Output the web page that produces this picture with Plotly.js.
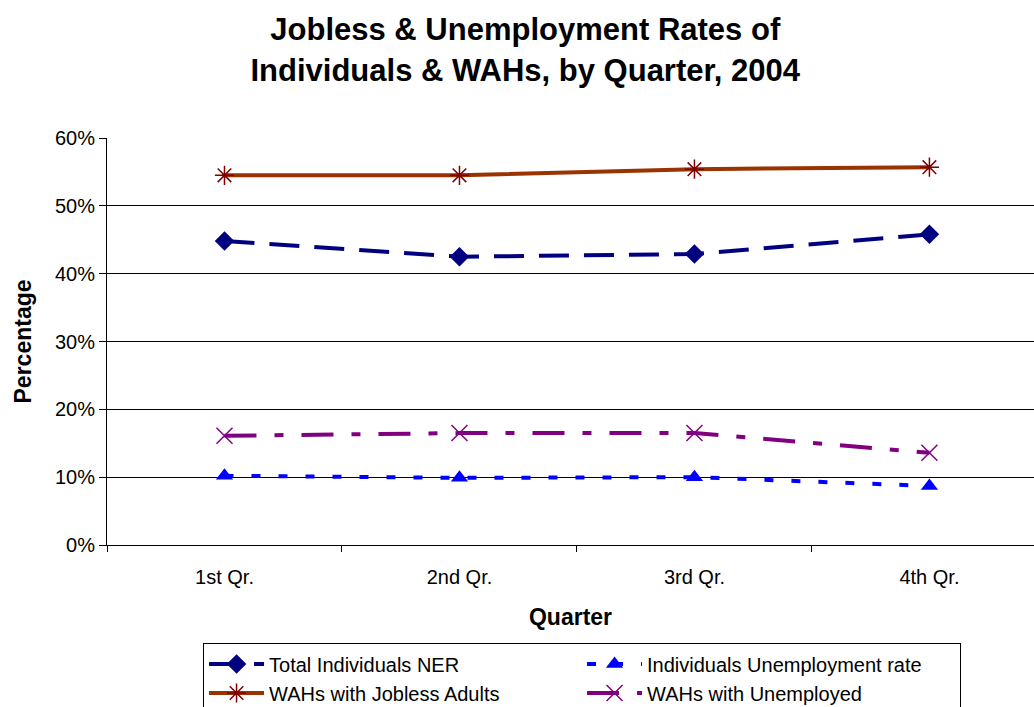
<!DOCTYPE html>
<html>
<head>
<meta charset="utf-8">
<script src="https://cdn.plot.ly/plotly-3.0.1.min.js"></script>
<style>
  html, body { margin: 0; padding: 0; background: #fff; overflow: hidden; }
  #chart { width: 1034px; height: 707px; }
</style>
</head>
<body>
<div id="chart"></div>
<script>
// Quarterly rates for 2004 (percent)
const quarters = ['1st Qr.', '2nd Qr.', '3rd Qr.', '4th Qr.'];
const totalIndividualsNER = [44.8, 42.5, 42.9, 45.8];
const individualsUnemploymentRate = [10.2, 9.9, 10.0, 8.7];
const wahsJoblessAdults = [54.5, 54.5, 55.4, 55.7];
const wahsUnemployed = [16.1, 16.5, 16.5, 13.6];
const yTickValues = [0, 10, 20, 30, 40, 50, 60];
const yTickLabels = ['0%', '10%', '20%', '30%', '40%', '50%', '60%'];

const FONT = 'Liberation Sans, Arial, sans-serif';

const traces = [
  {
    name: 'Total Individuals NER',
    x: quarters, y: totalIndividualsNER,
    mode: 'lines+markers',
    line: { color: '#000080', width: 4, dash: '30px,15px' },
    marker: { symbol: 'diamond', size: 15, color: '#000080' }
  },
  {
    name: 'Individuals Unemployment rate',
    x: quarters, y: individualsUnemploymentRate,
    mode: 'lines+markers',
    line: { color: '#0000FF', width: 4, dash: '9px,18px' },
    marker: { symbol: 'triangle-up', size: 15, color: '#0000FF' }
  },
  {
    name: 'WAHs with Jobless Adults',
    x: quarters, y: wahsJoblessAdults,
    mode: 'lines+markers',
    line: { color: '#993300', width: 4 },
    marker: { symbol: 'asterisk-open', size: 16, color: '#800000', line: { color: '#800000', width: 1.5 } }
  },
  {
    name: 'WAHs with Unemployed',
    x: quarters, y: wahsUnemployed,
    mode: 'lines+markers',
    line: { color: '#800080', width: 4, dash: '32px,18px,9px,18px' },
    marker: { symbol: 'x-thin-open', size: 16, color: '#800080', line: { color: '#800080', width: 1.5 } }
  }
];

const layout = {
  width: 1034, height: 707,
  margin: { l: 107, r: 0, t: 138, b: 162, autoexpand: false },
  paper_bgcolor: '#ffffff',
  plot_bgcolor: '#ffffff',
  font: { family: FONT, color: '#000000', size: 20 },
  title: {
    text: '<b>Jobless &amp; Unemployment Rates of<br>Individuals &amp; WAHs, by Quarter, 2004</b>',
    font: { family: FONT, size: 31, color: '#000000' },
    x: 0.508, xanchor: 'center',
    yref: 'container', y: 0.943, yanchor: 'middle'
  },
  xaxis: {
    type: 'category',
    range: [-0.5, 3.445],
    showline: true, linecolor: '#000000', linewidth: 1,
    showgrid: false, zeroline: false,
    ticks: 'outside', tickson: 'boundaries', ticklen: 6, tickcolor: '#000000',
    ticklabelstandoff: 14,
    tickfont: { family: FONT, size: 20 },
    title: { text: '<b>Quarter</b>', font: { family: FONT, size: 23 }, standoff: 21 }
  },
  yaxis: {
    range: [0, 60],
    tickvals: yTickValues, ticktext: yTickLabels,
    showline: true, linecolor: '#000000', linewidth: 1,
    showgrid: true, gridcolor: '#000000', gridwidth: 1,
    zeroline: false,
    ticks: 'outside', ticklen: 7, tickcolor: '#000000',
    tickfont: { family: FONT, size: 20 },
    title: { text: '<b>Percentage</b>', font: { family: FONT, size: 23 }, standoff: 16 }
  },
  showlegend: true,
  legend: {
    orientation: 'h',
    x: 0.1036, xanchor: 'left',
    y: -0.242, yanchor: 'top',
    bordercolor: '#000000', borderwidth: 1,
    bgcolor: '#ffffff',
    itemwidth: 55,
    entrywidth: 308, entrywidthmode: 'pixels',
    font: { family: FONT, size: 20, color: '#000000' },
    traceorder: 'normal'
  }
};

Plotly.newPlot('chart', traces, layout, { displayModeBar: false, staticPlot: true });
</script>
</body>
</html>
